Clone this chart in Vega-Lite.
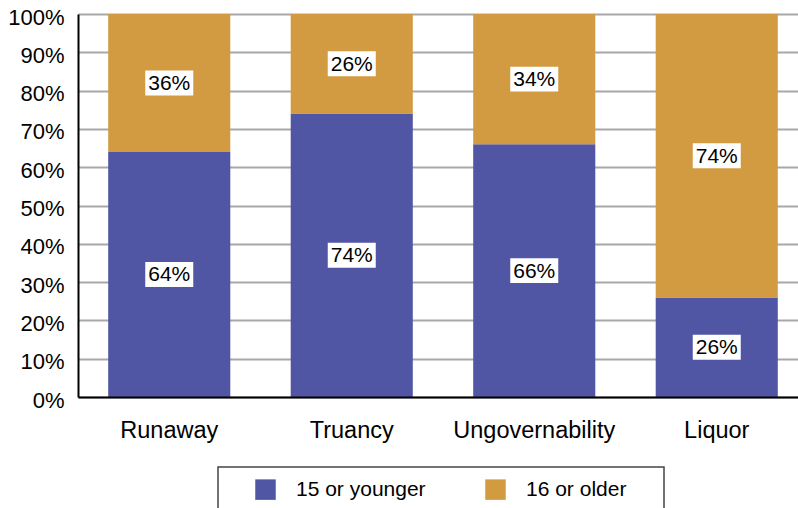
{
  "$schema": "https://vega.github.io/schema/vega-lite/v6.json",
  "width": 730,
  "height": 383,
  "autosize": {"type": "none"},
  "padding": {"left": 78, "top": 14, "right": 0, "bottom": 111},
  "config": {
    "view": {"stroke": null},
    "font": "Liberation Sans",
    "axisY": {
      "title": null,
      "values": [0, 0.1, 0.2, 0.3, 0.4, 0.5, 0.6, 0.7, 0.8, 0.9, 1],
      "format": ".0%",
      "labelFontSize": 22,
      "labelColor": "#000",
      "labelPadding": 14,
      "labelOffset": 3,
      "labelOverlap": false,
      "ticks": false,
      "tickSize": 0,
      "domainColor": "#000",
      "domainWidth": 2,
      "grid": true,
      "gridColor": "#a8a8a8",
      "gridWidth": 2,
      "gridOpacity": 1
    }
  },
  "data": {
    "values": [
      {"category": "Runaway", "group": "15 or younger", "value": 0.64},
      {"category": "Runaway", "group": "16 or older", "value": 0.36},
      {"category": "Truancy", "group": "15 or younger", "value": 0.74},
      {"category": "Truancy", "group": "16 or older", "value": 0.26},
      {"category": "Ungovernability", "group": "15 or younger", "value": 0.66},
      {"category": "Ungovernability", "group": "16 or older", "value": 0.34},
      {"category": "Liquor", "group": "15 or younger", "value": 0.26},
      {"category": "Liquor", "group": "16 or older", "value": 0.74}
    ]
  },
  "transform": [
    {"stack": "value", "groupby": ["category"], "as": ["v0", "v1"], "sort": [{"field": "group"}]},
    {"calculate": "(datum.v0 + datum.v1) / 2", "as": "mid"}
  ],
  "encoding": {
    "x": {
      "field": "category",
      "type": "nominal",
      "sort": ["Runaway", "Truancy", "Ungovernability", "Liquor"],
      "scale": {"paddingInner": 0.331, "paddingOuter": 0.1655},
      "axis": {
        "title": null,
        "labelAngle": 0,
        "labelFontSize": 23.5,
        "labelColor": "#000",
        "labelPadding": 21,
        "ticks": false,
        "tickSize": 0,
        "domainColor": "#000",
        "domainWidth": 2,
        "grid": false,
        "zindex": 1
      }
    }
  },
  "layer": [
    {
      "mark": {"type": "bar"},
      "encoding": {
        "y": {
          "field": "v0",
          "type": "quantitative",
          "scale": {"domain": [0, 1], "nice": false},
          "axis": {"values": [0, 0.1, 0.2, 0.3, 0.4, 0.5, 0.6, 0.7, 0.8, 0.9, 1], "title": null}
        },
        "y2": {"field": "v1"},
        "color": {
          "field": "group",
          "type": "nominal",
          "scale": {"domain": ["15 or younger", "16 or older"], "range": ["#5055a4", "#d39b41"]},
          "legend": {
            "orient": "none",
            "legendX": 140,
            "legendY": 453,
            "direction": "horizontal",
            "title": "\u00a0",
            "titleOrient": "right",
            "titlePadding": 26,
            "titleFontSize": 21,
            "symbolType": "square",
            "symbolSize": 420,
            "symbolStrokeWidth": 0,
            "symbolOpacity": 1,
            "labelFontSize": 21,
            "labelColor": "#000",
            "padding": 12,
            "strokeColor": "#444",
            "symbolOffset": 25,
            "columnPadding": 34,
            "labelOffset": 20,
            "encode": {"legend": {"update": {"strokeWidth": {"value": 1.5}}}}
          }
        }
      }
    },
    {
      "mark": {"type": "point", "shape": "M-1,-0.52H1V0.52H-1Z", "size": 2304, "filled": true, "fill": "#ffffff", "opacity": 1, "strokeWidth": 0},
      "encoding": {"y": {"field": "mid", "type": "quantitative", "axis": {"values": [0, 0.1, 0.2, 0.3, 0.4, 0.5, 0.6, 0.7, 0.8, 0.9, 1], "title": null}}}
    },
    {
      "mark": {"type": "text", "fontSize": 21, "color": "#000", "baseline": "middle", "align": "center", "dy": 1},
      "encoding": {
        "y": {"field": "mid", "type": "quantitative", "axis": {"values": [0, 0.1, 0.2, 0.3, 0.4, 0.5, 0.6, 0.7, 0.8, 0.9, 1], "title": null}},
        "text": {"field": "value", "type": "quantitative", "format": ".0%"}
      }
    }
  ]
}
